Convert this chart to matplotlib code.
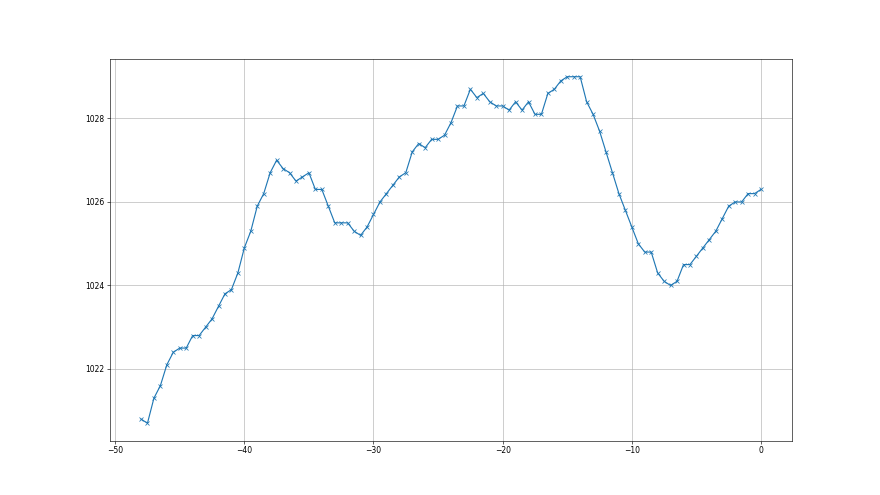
import matplotlib
matplotlib.use("Agg")
import matplotlib.pyplot as plt
import numpy as np

hours = np.arange(-48, 0.01, 0.5)
pressure = [
    1020.8, 1020.7, 1021.3, 1021.6, 1022.1, 1022.4, 1022.5, 1022.5, 1022.8, 1022.8,
    1023.0, 1023.2, 1023.5, 1023.8, 1023.9, 1024.3, 1024.9, 1025.3, 1025.9, 1026.2,
    1026.7, 1027.0, 1026.8, 1026.7, 1026.5, 1026.6, 1026.7, 1026.3, 1026.3, 1025.9,
    1025.5, 1025.5, 1025.5, 1025.3, 1025.2, 1025.4, 1025.7, 1026.0, 1026.2, 1026.4,
    1026.6, 1026.7, 1027.2, 1027.4, 1027.3, 1027.5, 1027.5, 1027.6, 1027.9, 1028.3,
    1028.3, 1028.7, 1028.5, 1028.6, 1028.4, 1028.3, 1028.3, 1028.2, 1028.4, 1028.2,
    1028.4, 1028.1, 1028.1, 1028.6, 1028.7, 1028.9, 1029.0, 1029.0, 1029.0, 1028.4,
    1028.1, 1027.7, 1027.2, 1026.7, 1026.2, 1025.8, 1025.4, 1025.0, 1024.8, 1024.8,
    1024.3, 1024.1, 1024.0, 1024.1, 1024.5, 1024.5, 1024.7, 1024.9, 1025.1, 1025.3,
    1025.6, 1025.9, 1026.0, 1026.0, 1026.2, 1026.2, 1026.3,
]

fig, ax = plt.subplots(figsize=(16, 9), dpi=55)
ax.plot(hours, pressure, marker='x')
ax.grid(True)
fig.savefig("out.png")
